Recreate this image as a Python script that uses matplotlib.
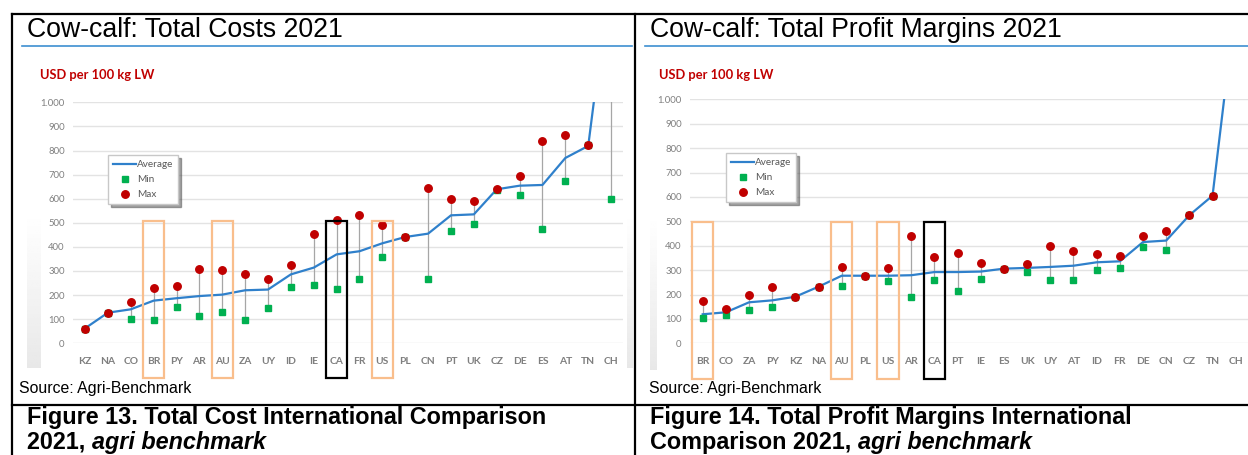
import numpy as np
import matplotlib
matplotlib.use("Agg")
import matplotlib.pyplot as plt
from matplotlib.patches import Rectangle
from matplotlib.lines import Line2D
from matplotlib.text import Annotation
from matplotlib.ticker import FuncFormatter

W, H = 1248, 455

# --- total costs (USD per 100 kg LW) ---
cost_countries = ["KZ", "NA", "CO", "BR", "PY", "AR", "AU", "ZA", "UY", "ID", "IE", "CA",
                  "FR", "US", "PL", "CN", "PT", "UK", "CZ", "DE", "ES", "AT", "TN", "CH"]
cost_avg = [62, 127, 141, 177, 187, 196, 202, 220, 223, 286, 314, 369,
            382, 415, 441, 455, 531, 535, 639, 654, 657, 769, 819, 1564]
cost_min = [60, 124, 101, 95, 151, 113, 131, 95, 148, 234, 242, 227,
            268, 358, 441, 267, 465, 494, 636, 616, 474, 674, 824, 600]
cost_max = [60, 124, 170, 230, 238, 310, 306, 288, 267, 324, 455, 512,
            534, 490, 441, 645, 598, 592, 639, 693, 841, 863, 824, 1700]

# --- total profit margins (USD per 100 kg LW) ---
margin_countries = ["BR", "CO", "ZA", "PY", "KZ", "NA", "AU", "PL", "US", "AR", "CA", "PT",
                    "IE", "ES", "UK", "UY", "AT", "ID", "FR", "DE", "CN", "CZ", "TN", "CH"]
margin_avg = [119, 127, 168, 176, 191, 232, 277, 277, 277, 279, 292, 292,
              294, 306, 309, 313, 318, 332, 336, 415, 421, 525, 605, 1395]
margin_min = [102, 115, 137, 148, 191, 232, 235, 277, 257, 190, 261, 214,
              265, 303, 292, 261, 258, 299, 307, 393, 383, 525, 605, np.nan]
margin_max = [172, 142, 197, 231, 191, 232, 313, 277, 310, 439, 352, 372,
              331, 306, 325, 398, 380, 367, 357, 440, 462, 525, 605, np.nan]

highlight_orange = ["BR", "AU", "US"]
highlight_black = ["CA"]

BLUE = "#2F80CB"
GREEN = "#00B050"
RED = "#C00000"
GRID = "#E3E3E3"
TICK = "#7F7F7F"
CHART_FONT = ["Lato", "DejaVu Sans"]

plt.rcParams["font.family"] = ["Liberation Sans", "DejaVu Sans"]

fig = plt.figure(figsize=(W / 100, H / 100), dpi=100)


def fx(x):
    return x / W


def fy(y):
    return 1 - y / H


def add_px_axes(x0, y0, x1, y1):
    return fig.add_axes([fx(x0), fy(y1), (x1 - x0) / W, (y1 - y0) / H])


def strip(x0, y0, x1, y1):
    # faint grey gradient band at the edge of the chart images
    a = add_px_axes(x0, y0, x1, y1)
    grad = np.linspace(0.0, 1.0, 64).reshape(-1, 1)
    a.imshow(1 - 0.09 * grad, cmap="gray", vmin=0, vmax=1, aspect="auto")
    a.set_axis_off()


def draw_panel(px_left, px_right, y_top, y_zero, xlim, countries, avg, mn, mx,
               title, tx, line_x0, line_x1, usd_x, legend_xy, box_y):
    # heading and blue rule
    fig.text(fx(tx), fy(30), title, fontsize=19.2, color="black", va="center", ha="left")
    fig.add_artist(Line2D([fx(line_x0), fx(line_x1)], [fy(45.5), fy(45.5)],
                          color="#3D8FD1", lw=1.2))
    fig.text(fx(usd_x), fy(75), "USD per 100 kg LW", fontsize=9.3, color=RED,
             fontweight="bold", family=CHART_FONT, va="center", ha="left")

    ax = add_px_axes(px_left, y_top, px_right, y_zero)
    x = np.arange(len(countries))
    ax.vlines(x, mn, mx, color="#A6A6A6", lw=0.9, zorder=2)
    ax.plot(x, avg, color=BLUE, lw=1.6, zorder=3, label="Average")
    ax.plot(x, mn, ls="none", marker="s", ms=4.6, color=GREEN, zorder=4, label="Min")
    ax.plot(x, mx, ls="none", marker="o", ms=5.4, color=RED, zorder=5, label="Max")

    ax.set_xlim(*xlim)
    ax.set_ylim(0, 1000)
    ax.set_yticks(range(0, 1001, 100))
    ax.yaxis.set_major_formatter(FuncFormatter(lambda v, p: f"{int(v):,}".replace(",", ".")))
    ax.set_xticks(x)
    ax.set_xticklabels(countries)
    ax.grid(axis="y", color=GRID, lw=1.0)
    ax.set_axisbelow(True)
    for s in ax.spines.values():
        s.set_visible(False)
    ax.tick_params(axis="both", length=0, colors=TICK)
    ax.tick_params(axis="y", labelsize=6.8, pad=6)
    ax.tick_params(axis="x", labelsize=7.4, pad=10)
    for lab in ax.get_xticklabels() + ax.get_yticklabels():
        lab.set_family(CHART_FONT)
    for lab in ax.get_xticklabels():
        lab.set_fontweight("bold")

    # highlighted countries
    for c in countries:
        if c in highlight_orange or c in highlight_black:
            i = countries.index(c)
            col = "#F9BE8C" if c in highlight_orange else "black"
            ax.add_patch(Rectangle((i - 0.46, box_y[0]), 0.92, box_y[1] - box_y[0],
                                   fill=False, ec=col, lw=1.6, clip_on=False, zorder=6))

    leg = ax.legend(loc="upper left", bbox_to_anchor=(fx(legend_xy[0]), fy(legend_xy[1])),
                    bbox_transform=fig.transFigure, borderaxespad=0,
                    frameon=True, fancybox=False, shadow=True, edgecolor="#C8C8C8",
                    framealpha=1, handlelength=2.3, handletextpad=0.1,
                    labelspacing=0.6, borderpad=0.5,
                    prop={"family": CHART_FONT, "size": 7.2})
    for t in leg.get_texts():
        t.set_color("#595959")
    return ax


# faint grey bands
strip(27, 213, 41, 368)
strip(627, 213, 633, 368)
strip(650, 215, 657, 370)

draw_panel(73, 623, 102.3, 343.3, (-0.525, 23.52), cost_countries,
           cost_avg, cost_min, cost_max, "Cow-calf: Total Costs 2021",
           27, 22, 632, 40, (108, 155), (-144, 507))
draw_panel(690, 1248, 99.3, 343.3, (-0.548, 23.53), margin_countries,
           margin_avg, margin_min, margin_max, "Cow-calf: Total Profit Margins 2021",
           650, 645, 1248, 659, (726, 153), (-147, 497))

# source lines
fig.text(fx(19), fy(388), "Source: Agri-Benchmark", fontsize=11.4, va="center", ha="left")
fig.text(fx(649), fy(388), "Source: Agri-Benchmark", fontsize=11.4, va="center", ha="left")

# figure captions, second line ends in bold italic
captions = [
    (27, "Figure 13. Total Cost International Comparison", "2021, "),
    (650, "Figure 14. Total Profit Margins International", "Comparison 2021, "),
]
for cx, line1, line2 in captions:
    fig.text(fx(cx), fy(424), line1, fontsize=16.8, fontweight="bold",
             va="baseline", ha="left")
    t2 = fig.text(fx(cx), fy(449), line2, fontsize=16.8, fontweight="bold",
                  va="baseline", ha="left")
    fig.add_artist(Annotation("agri benchmark", xy=(1, 0), xycoords=t2,
                              va="bottom", ha="left", fontsize=16.8,
                              fontweight="bold", style="italic"))

# table rules
rule = dict(color="black", lw=1.6)
fig.add_artist(Line2D([fx(12), 1], [fy(14), fy(14)], **rule))
fig.add_artist(Line2D([fx(12), fx(12)], [fy(14), 0], **rule))
fig.add_artist(Line2D([fx(635), fx(635)], [fy(14), 0], **rule))
fig.add_artist(Line2D([fx(12), 1], [fy(405), fy(405)], **rule))

fig.savefig("out.png", dpi=100)
